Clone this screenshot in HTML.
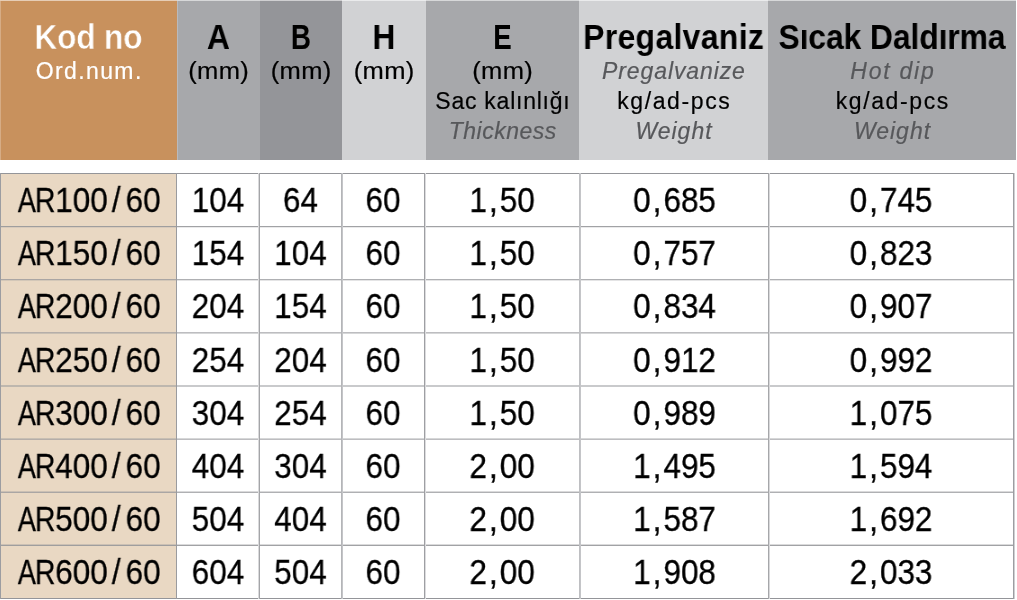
<!DOCTYPE html>
<html><head><meta charset="utf-8"><style>
html,body{margin:0;padding:0;background:#fff;width:1017px;height:600px;overflow:hidden}
.r{position:absolute}
.cm{margin:0 2.3px}
.sl{margin:0 5.6px 0 4.5px}
.ar{letter-spacing:-1.2px;margin-right:-2.0px}
.a{display:inline-block;transform:scaleX(0.86);transform-origin:100% 50%}
.rr{display:inline-block;transform:scaleX(0.9);transform-origin:0 50%}
.t{position:absolute;box-sizing:border-box;will-change:transform;text-align:center;white-space:nowrap;font-family:"Liberation Sans", sans-serif}
</style></head><body>
<div class="r" style="left:0px;top:0px;width:177px;height:160px;background:#c8915d"></div>
<div class="r" style="left:177px;top:0px;width:83px;height:160px;background:#a7a8ab"></div>
<div class="r" style="left:260px;top:0px;width:82px;height:160px;background:#949599"></div>
<div class="r" style="left:342px;top:0px;width:84px;height:160px;background:#d1d2d4"></div>
<div class="r" style="left:426px;top:0px;width:153px;height:160px;background:#a7a8ab"></div>
<div class="r" style="left:579px;top:0px;width:189px;height:160px;background:#d1d2d4"></div>
<div class="r" style="left:768px;top:0px;width:248px;height:160px;background:#a7a8ab"></div>
<div class="r" style="left:0px;top:0px;width:1016px;height:1px;background:rgba(255,255,255,0.55)"></div>
<div class="r" style="left:0px;top:1px;width:1px;height:159px;background:rgba(255,255,255,0.25)"></div>
<div class="r" style="left:177px;top:1px;width:1px;height:159px;background:#b9babd"></div>
<div class="r" style="left:0px;top:173px;width:176px;height:425px;background:#e9d8c3"></div>
<div class="r" style="left:0px;top:173px;width:1014px;height:1px;background:rgba(148,149,153,1.00)"></div>
<div class="r" style="left:0px;top:226px;width:1014px;height:1px;background:rgba(148,149,153,0.88)"></div>
<div class="r" style="left:0px;top:227px;width:1014px;height:1px;background:rgba(148,149,153,0.20)"></div>
<div class="r" style="left:0px;top:279px;width:1014px;height:1px;background:rgba(148,149,153,0.75)"></div>
<div class="r" style="left:0px;top:280px;width:1014px;height:1px;background:rgba(148,149,153,0.25)"></div>
<div class="r" style="left:0px;top:332px;width:1014px;height:1px;background:rgba(148,149,153,0.62)"></div>
<div class="r" style="left:0px;top:333px;width:1014px;height:1px;background:rgba(148,149,153,0.38)"></div>
<div class="r" style="left:0px;top:385px;width:1014px;height:1px;background:rgba(148,149,153,0.50)"></div>
<div class="r" style="left:0px;top:386px;width:1014px;height:1px;background:rgba(148,149,153,0.50)"></div>
<div class="r" style="left:0px;top:438px;width:1014px;height:1px;background:rgba(148,149,153,0.38)"></div>
<div class="r" style="left:0px;top:439px;width:1014px;height:1px;background:rgba(148,149,153,0.62)"></div>
<div class="r" style="left:0px;top:491px;width:1014px;height:1px;background:rgba(148,149,153,0.35)"></div>
<div class="r" style="left:0px;top:492px;width:1014px;height:1px;background:rgba(148,149,153,0.75)"></div>
<div class="r" style="left:0px;top:544px;width:1014px;height:1px;background:rgba(148,149,153,0.35)"></div>
<div class="r" style="left:0px;top:545px;width:1014px;height:1px;background:rgba(148,149,153,0.88)"></div>
<div class="r" style="left:0px;top:598px;width:1014px;height:1px;background:rgba(148,149,153,1.00)"></div>
<div class="r" style="left:0px;top:173px;width:1px;height:426px;background:#9c9da1"></div>
<div class="r" style="left:176px;top:173px;width:1px;height:426px;background:#9a9b9f"></div>
<div class="r" style="left:258px;top:173px;width:1px;height:426px;background:#dadadc"></div>
<div class="r" style="left:259px;top:173px;width:1px;height:426px;background:#a4a5a8"></div>
<div class="r" style="left:341px;top:173px;width:1px;height:426px;background:#b4b5b8"></div>
<div class="r" style="left:342px;top:173px;width:1px;height:426px;background:#c4c5c8"></div>
<div class="r" style="left:424px;top:173px;width:1px;height:426px;background:#9e9fa3"></div>
<div class="r" style="left:425px;top:173px;width:1px;height:426px;background:#dcdcde"></div>
<div class="r" style="left:579px;top:173px;width:1px;height:426px;background:#bebfc2"></div>
<div class="r" style="left:580px;top:173px;width:1px;height:426px;background:#c4c5c8"></div>
<div class="r" style="left:768px;top:173px;width:1px;height:426px;background:#a6a7aa"></div>
<div class="r" style="left:769px;top:173px;width:1px;height:426px;background:#d8d8da"></div>
<div class="r" style="left:1013px;top:173px;width:1px;height:426px;background:#9c9da1"></div>
<div class="r" style="left:1014px;top:173px;width:1px;height:426px;background:#cfcfd2"></div>
<div class="t" style="left:-40px;width:257px;top:18.77px;font-size:35px;line-height:35px;font-weight:bold;font-style:normal;color:#fff;letter-spacing:-0.35px;padding-right:0.35px;transform:scaleX(0.91);-webkit-text-stroke:0.5px #c8915d;">Kod no</div>
<div class="t" style="left:-40px;width:257px;top:59.53px;font-size:23px;line-height:23px;font-weight:normal;font-style:normal;color:#fff;letter-spacing:1.4px;padding-left:1.4px;-webkit-text-stroke:0.2px #fff;">Ord.num.</div>
<div class="t" style="left:137px;width:163px;top:18.77px;font-size:35px;line-height:35px;font-weight:bold;font-style:normal;color:#000;letter-spacing:0px;transform:scaleX(0.91);">A</div>
<div class="t" style="left:137px;width:163px;top:59.53px;font-size:23px;line-height:23px;font-weight:normal;font-style:normal;color:#000;letter-spacing:0.3px;padding-left:0.3px;transform:scaleX(1.11);-webkit-text-stroke:0.2px #000;">(mm)</div>
<div class="t" style="left:220px;width:162px;top:18.77px;font-size:35px;line-height:35px;font-weight:bold;font-style:normal;color:#000;letter-spacing:0px;transform:scaleX(0.79);">B</div>
<div class="t" style="left:220px;width:162px;top:59.53px;font-size:23px;line-height:23px;font-weight:normal;font-style:normal;color:#000;letter-spacing:0.3px;padding-left:0.3px;transform:scaleX(1.11);-webkit-text-stroke:0.2px #000;">(mm)</div>
<div class="t" style="left:302px;width:164px;top:18.77px;font-size:35px;line-height:35px;font-weight:bold;font-style:normal;color:#000;letter-spacing:0px;transform:scaleX(0.91);">H</div>
<div class="t" style="left:302px;width:164px;top:59.53px;font-size:23px;line-height:23px;font-weight:normal;font-style:normal;color:#000;letter-spacing:0.3px;padding-left:0.3px;transform:scaleX(1.11);-webkit-text-stroke:0.2px #000;">(mm)</div>
<div class="t" style="left:386px;width:233px;top:18.77px;font-size:35px;line-height:35px;font-weight:bold;font-style:normal;color:#000;letter-spacing:0px;transform:scaleX(0.79);">E</div>
<div class="t" style="left:386px;width:233px;top:59.53px;font-size:23px;line-height:23px;font-weight:normal;font-style:normal;color:#000;letter-spacing:0.3px;padding-left:0.3px;transform:scaleX(1.11);-webkit-text-stroke:0.2px #000;">(mm)</div>
<div class="t" style="left:386px;width:233px;top:90.03px;font-size:23px;line-height:23px;font-weight:normal;font-style:normal;color:#000;letter-spacing:0.75px;padding-left:0.75px;-webkit-text-stroke:0.2px #000;">Sac kalınlığı</div>
<div class="t" style="left:386px;width:233px;top:119.53px;font-size:23px;line-height:23px;font-weight:normal;font-style:italic;color:#57585b;letter-spacing:0.5px;padding-left:0.5px;-webkit-text-stroke:0.2px #57585b;">Thickness</div>
<div class="t" style="left:539px;width:269px;top:18.77px;font-size:35px;line-height:35px;font-weight:bold;font-style:normal;color:#000;letter-spacing:0.4px;padding-left:0.4px;transform:scaleX(0.91);">Pregalvaniz</div>
<div class="t" style="left:539px;width:269px;top:59.53px;font-size:23px;line-height:23px;font-weight:normal;font-style:italic;color:#57585b;letter-spacing:0.9px;padding-left:0.9px;-webkit-text-stroke:0.2px #57585b;">Pregalvanize</div>
<div class="t" style="left:539px;width:269px;top:90.03px;font-size:23px;line-height:23px;font-weight:normal;font-style:normal;color:#000;letter-spacing:1.6px;padding-left:1.6px;-webkit-text-stroke:0.2px #000;">kg/ad-pcs</div>
<div class="t" style="left:539px;width:269px;top:119.53px;font-size:23px;line-height:23px;font-weight:normal;font-style:italic;color:#57585b;letter-spacing:1.0px;padding-left:1.0px;-webkit-text-stroke:0.2px #57585b;">Weight</div>
<div class="t" style="left:728px;width:328px;top:18.77px;font-size:35px;line-height:35px;font-weight:bold;font-style:normal;color:#000;letter-spacing:-0.1px;padding-right:0.1px;transform:scaleX(0.91);">Sıcak Daldırma</div>
<div class="t" style="left:728px;width:328px;top:59.53px;font-size:23px;line-height:23px;font-weight:normal;font-style:italic;color:#57585b;letter-spacing:1.75px;padding-left:1.75px;-webkit-text-stroke:0.2px #57585b;">Hot dip</div>
<div class="t" style="left:728px;width:328px;top:90.03px;font-size:23px;line-height:23px;font-weight:normal;font-style:normal;color:#000;letter-spacing:1.6px;padding-left:1.6px;-webkit-text-stroke:0.2px #000;">kg/ad-pcs</div>
<div class="t" style="left:728px;width:328px;top:119.53px;font-size:23px;line-height:23px;font-weight:normal;font-style:italic;color:#57585b;letter-spacing:1.0px;padding-left:1.0px;-webkit-text-stroke:0.2px #57585b;">Weight</div>
<div class="t" style="left:-40px;width:256px;top:182.00px;font-size:35px;line-height:35px;font-weight:normal;font-style:normal;color:#000;letter-spacing:0px;transform:scaleX(0.9);-webkit-text-stroke:0.3px #000;"><span class="ar"><span class="a">A</span><span class="rr">R</span></span>100<span class="sl">/</span>60</div>
<div class="t" style="left:137px;width:162px;top:182.00px;font-size:35px;line-height:35px;font-weight:normal;font-style:normal;color:#000;letter-spacing:0px;transform:scaleX(0.9);-webkit-text-stroke:0.3px #000;">104</div>
<div class="t" style="left:220px;width:161px;top:182.00px;font-size:35px;line-height:35px;font-weight:normal;font-style:normal;color:#000;letter-spacing:0px;transform:scaleX(0.9);-webkit-text-stroke:0.3px #000;">64</div>
<div class="t" style="left:302px;width:162px;top:182.00px;font-size:35px;line-height:35px;font-weight:normal;font-style:normal;color:#000;letter-spacing:0px;transform:scaleX(0.9);-webkit-text-stroke:0.3px #000;">60</div>
<div class="t" style="left:385px;width:234px;top:182.00px;font-size:35px;line-height:35px;font-weight:normal;font-style:normal;color:#000;letter-spacing:0px;transform:scaleX(0.9);-webkit-text-stroke:0.3px #000;">1<span class="cm">,</span>50</div>
<div class="t" style="left:541px;width:267px;top:182.00px;font-size:35px;line-height:35px;font-weight:normal;font-style:normal;color:#000;letter-spacing:0px;transform:scaleX(0.9);-webkit-text-stroke:0.3px #000;">0<span class="cm">,</span>685</div>
<div class="t" style="left:729px;width:324px;top:182.00px;font-size:35px;line-height:35px;font-weight:normal;font-style:normal;color:#000;letter-spacing:0px;transform:scaleX(0.9);-webkit-text-stroke:0.3px #000;">0<span class="cm">,</span>745</div>
<div class="t" style="left:-40px;width:256px;top:235.00px;font-size:35px;line-height:35px;font-weight:normal;font-style:normal;color:#000;letter-spacing:0px;transform:scaleX(0.9);-webkit-text-stroke:0.3px #000;"><span class="ar"><span class="a">A</span><span class="rr">R</span></span>150<span class="sl">/</span>60</div>
<div class="t" style="left:137px;width:162px;top:235.00px;font-size:35px;line-height:35px;font-weight:normal;font-style:normal;color:#000;letter-spacing:0px;transform:scaleX(0.9);-webkit-text-stroke:0.3px #000;">154</div>
<div class="t" style="left:220px;width:161px;top:235.00px;font-size:35px;line-height:35px;font-weight:normal;font-style:normal;color:#000;letter-spacing:0px;transform:scaleX(0.9);-webkit-text-stroke:0.3px #000;">104</div>
<div class="t" style="left:302px;width:162px;top:235.00px;font-size:35px;line-height:35px;font-weight:normal;font-style:normal;color:#000;letter-spacing:0px;transform:scaleX(0.9);-webkit-text-stroke:0.3px #000;">60</div>
<div class="t" style="left:385px;width:234px;top:235.00px;font-size:35px;line-height:35px;font-weight:normal;font-style:normal;color:#000;letter-spacing:0px;transform:scaleX(0.9);-webkit-text-stroke:0.3px #000;">1<span class="cm">,</span>50</div>
<div class="t" style="left:541px;width:267px;top:235.00px;font-size:35px;line-height:35px;font-weight:normal;font-style:normal;color:#000;letter-spacing:0px;transform:scaleX(0.9);-webkit-text-stroke:0.3px #000;">0<span class="cm">,</span>757</div>
<div class="t" style="left:729px;width:324px;top:235.00px;font-size:35px;line-height:35px;font-weight:normal;font-style:normal;color:#000;letter-spacing:0px;transform:scaleX(0.9);-webkit-text-stroke:0.3px #000;">0<span class="cm">,</span>823</div>
<div class="t" style="left:-40px;width:256px;top:288.00px;font-size:35px;line-height:35px;font-weight:normal;font-style:normal;color:#000;letter-spacing:0px;transform:scaleX(0.9);-webkit-text-stroke:0.3px #000;"><span class="ar"><span class="a">A</span><span class="rr">R</span></span>200<span class="sl">/</span>60</div>
<div class="t" style="left:137px;width:162px;top:288.00px;font-size:35px;line-height:35px;font-weight:normal;font-style:normal;color:#000;letter-spacing:0px;transform:scaleX(0.9);-webkit-text-stroke:0.3px #000;">204</div>
<div class="t" style="left:220px;width:161px;top:288.00px;font-size:35px;line-height:35px;font-weight:normal;font-style:normal;color:#000;letter-spacing:0px;transform:scaleX(0.9);-webkit-text-stroke:0.3px #000;">154</div>
<div class="t" style="left:302px;width:162px;top:288.00px;font-size:35px;line-height:35px;font-weight:normal;font-style:normal;color:#000;letter-spacing:0px;transform:scaleX(0.9);-webkit-text-stroke:0.3px #000;">60</div>
<div class="t" style="left:385px;width:234px;top:288.00px;font-size:35px;line-height:35px;font-weight:normal;font-style:normal;color:#000;letter-spacing:0px;transform:scaleX(0.9);-webkit-text-stroke:0.3px #000;">1<span class="cm">,</span>50</div>
<div class="t" style="left:541px;width:267px;top:288.00px;font-size:35px;line-height:35px;font-weight:normal;font-style:normal;color:#000;letter-spacing:0px;transform:scaleX(0.9);-webkit-text-stroke:0.3px #000;">0<span class="cm">,</span>834</div>
<div class="t" style="left:729px;width:324px;top:288.00px;font-size:35px;line-height:35px;font-weight:normal;font-style:normal;color:#000;letter-spacing:0px;transform:scaleX(0.9);-webkit-text-stroke:0.3px #000;">0<span class="cm">,</span>907</div>
<div class="t" style="left:-40px;width:256px;top:342.00px;font-size:35px;line-height:35px;font-weight:normal;font-style:normal;color:#000;letter-spacing:0px;transform:scaleX(0.9);-webkit-text-stroke:0.3px #000;"><span class="ar"><span class="a">A</span><span class="rr">R</span></span>250<span class="sl">/</span>60</div>
<div class="t" style="left:137px;width:162px;top:342.00px;font-size:35px;line-height:35px;font-weight:normal;font-style:normal;color:#000;letter-spacing:0px;transform:scaleX(0.9);-webkit-text-stroke:0.3px #000;">254</div>
<div class="t" style="left:220px;width:161px;top:342.00px;font-size:35px;line-height:35px;font-weight:normal;font-style:normal;color:#000;letter-spacing:0px;transform:scaleX(0.9);-webkit-text-stroke:0.3px #000;">204</div>
<div class="t" style="left:302px;width:162px;top:342.00px;font-size:35px;line-height:35px;font-weight:normal;font-style:normal;color:#000;letter-spacing:0px;transform:scaleX(0.9);-webkit-text-stroke:0.3px #000;">60</div>
<div class="t" style="left:385px;width:234px;top:342.00px;font-size:35px;line-height:35px;font-weight:normal;font-style:normal;color:#000;letter-spacing:0px;transform:scaleX(0.9);-webkit-text-stroke:0.3px #000;">1<span class="cm">,</span>50</div>
<div class="t" style="left:541px;width:267px;top:342.00px;font-size:35px;line-height:35px;font-weight:normal;font-style:normal;color:#000;letter-spacing:0px;transform:scaleX(0.9);-webkit-text-stroke:0.3px #000;">0<span class="cm">,</span>912</div>
<div class="t" style="left:729px;width:324px;top:342.00px;font-size:35px;line-height:35px;font-weight:normal;font-style:normal;color:#000;letter-spacing:0px;transform:scaleX(0.9);-webkit-text-stroke:0.3px #000;">0<span class="cm">,</span>992</div>
<div class="t" style="left:-40px;width:256px;top:395.00px;font-size:35px;line-height:35px;font-weight:normal;font-style:normal;color:#000;letter-spacing:0px;transform:scaleX(0.9);-webkit-text-stroke:0.3px #000;"><span class="ar"><span class="a">A</span><span class="rr">R</span></span>300<span class="sl">/</span>60</div>
<div class="t" style="left:137px;width:162px;top:395.00px;font-size:35px;line-height:35px;font-weight:normal;font-style:normal;color:#000;letter-spacing:0px;transform:scaleX(0.9);-webkit-text-stroke:0.3px #000;">304</div>
<div class="t" style="left:220px;width:161px;top:395.00px;font-size:35px;line-height:35px;font-weight:normal;font-style:normal;color:#000;letter-spacing:0px;transform:scaleX(0.9);-webkit-text-stroke:0.3px #000;">254</div>
<div class="t" style="left:302px;width:162px;top:395.00px;font-size:35px;line-height:35px;font-weight:normal;font-style:normal;color:#000;letter-spacing:0px;transform:scaleX(0.9);-webkit-text-stroke:0.3px #000;">60</div>
<div class="t" style="left:385px;width:234px;top:395.00px;font-size:35px;line-height:35px;font-weight:normal;font-style:normal;color:#000;letter-spacing:0px;transform:scaleX(0.9);-webkit-text-stroke:0.3px #000;">1<span class="cm">,</span>50</div>
<div class="t" style="left:541px;width:267px;top:395.00px;font-size:35px;line-height:35px;font-weight:normal;font-style:normal;color:#000;letter-spacing:0px;transform:scaleX(0.9);-webkit-text-stroke:0.3px #000;">0<span class="cm">,</span>989</div>
<div class="t" style="left:729px;width:324px;top:395.00px;font-size:35px;line-height:35px;font-weight:normal;font-style:normal;color:#000;letter-spacing:0px;transform:scaleX(0.9);-webkit-text-stroke:0.3px #000;">1<span class="cm">,</span>075</div>
<div class="t" style="left:-40px;width:256px;top:448.00px;font-size:35px;line-height:35px;font-weight:normal;font-style:normal;color:#000;letter-spacing:0px;transform:scaleX(0.9);-webkit-text-stroke:0.3px #000;"><span class="ar"><span class="a">A</span><span class="rr">R</span></span>400<span class="sl">/</span>60</div>
<div class="t" style="left:137px;width:162px;top:448.00px;font-size:35px;line-height:35px;font-weight:normal;font-style:normal;color:#000;letter-spacing:0px;transform:scaleX(0.9);-webkit-text-stroke:0.3px #000;">404</div>
<div class="t" style="left:220px;width:161px;top:448.00px;font-size:35px;line-height:35px;font-weight:normal;font-style:normal;color:#000;letter-spacing:0px;transform:scaleX(0.9);-webkit-text-stroke:0.3px #000;">304</div>
<div class="t" style="left:302px;width:162px;top:448.00px;font-size:35px;line-height:35px;font-weight:normal;font-style:normal;color:#000;letter-spacing:0px;transform:scaleX(0.9);-webkit-text-stroke:0.3px #000;">60</div>
<div class="t" style="left:385px;width:234px;top:448.00px;font-size:35px;line-height:35px;font-weight:normal;font-style:normal;color:#000;letter-spacing:0px;transform:scaleX(0.9);-webkit-text-stroke:0.3px #000;">2<span class="cm">,</span>00</div>
<div class="t" style="left:541px;width:267px;top:448.00px;font-size:35px;line-height:35px;font-weight:normal;font-style:normal;color:#000;letter-spacing:0px;transform:scaleX(0.9);-webkit-text-stroke:0.3px #000;">1<span class="cm">,</span>495</div>
<div class="t" style="left:729px;width:324px;top:448.00px;font-size:35px;line-height:35px;font-weight:normal;font-style:normal;color:#000;letter-spacing:0px;transform:scaleX(0.9);-webkit-text-stroke:0.3px #000;">1<span class="cm">,</span>594</div>
<div class="t" style="left:-40px;width:256px;top:501.00px;font-size:35px;line-height:35px;font-weight:normal;font-style:normal;color:#000;letter-spacing:0px;transform:scaleX(0.9);-webkit-text-stroke:0.3px #000;"><span class="ar"><span class="a">A</span><span class="rr">R</span></span>500<span class="sl">/</span>60</div>
<div class="t" style="left:137px;width:162px;top:501.00px;font-size:35px;line-height:35px;font-weight:normal;font-style:normal;color:#000;letter-spacing:0px;transform:scaleX(0.9);-webkit-text-stroke:0.3px #000;">504</div>
<div class="t" style="left:220px;width:161px;top:501.00px;font-size:35px;line-height:35px;font-weight:normal;font-style:normal;color:#000;letter-spacing:0px;transform:scaleX(0.9);-webkit-text-stroke:0.3px #000;">404</div>
<div class="t" style="left:302px;width:162px;top:501.00px;font-size:35px;line-height:35px;font-weight:normal;font-style:normal;color:#000;letter-spacing:0px;transform:scaleX(0.9);-webkit-text-stroke:0.3px #000;">60</div>
<div class="t" style="left:385px;width:234px;top:501.00px;font-size:35px;line-height:35px;font-weight:normal;font-style:normal;color:#000;letter-spacing:0px;transform:scaleX(0.9);-webkit-text-stroke:0.3px #000;">2<span class="cm">,</span>00</div>
<div class="t" style="left:541px;width:267px;top:501.00px;font-size:35px;line-height:35px;font-weight:normal;font-style:normal;color:#000;letter-spacing:0px;transform:scaleX(0.9);-webkit-text-stroke:0.3px #000;">1<span class="cm">,</span>587</div>
<div class="t" style="left:729px;width:324px;top:501.00px;font-size:35px;line-height:35px;font-weight:normal;font-style:normal;color:#000;letter-spacing:0px;transform:scaleX(0.9);-webkit-text-stroke:0.3px #000;">1<span class="cm">,</span>692</div>
<div class="t" style="left:-40px;width:256px;top:554.00px;font-size:35px;line-height:35px;font-weight:normal;font-style:normal;color:#000;letter-spacing:0px;transform:scaleX(0.9);-webkit-text-stroke:0.3px #000;"><span class="ar"><span class="a">A</span><span class="rr">R</span></span>600<span class="sl">/</span>60</div>
<div class="t" style="left:137px;width:162px;top:554.00px;font-size:35px;line-height:35px;font-weight:normal;font-style:normal;color:#000;letter-spacing:0px;transform:scaleX(0.9);-webkit-text-stroke:0.3px #000;">604</div>
<div class="t" style="left:220px;width:161px;top:554.00px;font-size:35px;line-height:35px;font-weight:normal;font-style:normal;color:#000;letter-spacing:0px;transform:scaleX(0.9);-webkit-text-stroke:0.3px #000;">504</div>
<div class="t" style="left:302px;width:162px;top:554.00px;font-size:35px;line-height:35px;font-weight:normal;font-style:normal;color:#000;letter-spacing:0px;transform:scaleX(0.9);-webkit-text-stroke:0.3px #000;">60</div>
<div class="t" style="left:385px;width:234px;top:554.00px;font-size:35px;line-height:35px;font-weight:normal;font-style:normal;color:#000;letter-spacing:0px;transform:scaleX(0.9);-webkit-text-stroke:0.3px #000;">2<span class="cm">,</span>00</div>
<div class="t" style="left:541px;width:267px;top:554.00px;font-size:35px;line-height:35px;font-weight:normal;font-style:normal;color:#000;letter-spacing:0px;transform:scaleX(0.9);-webkit-text-stroke:0.3px #000;">1<span class="cm">,</span>908</div>
<div class="t" style="left:729px;width:324px;top:554.00px;font-size:35px;line-height:35px;font-weight:normal;font-style:normal;color:#000;letter-spacing:0px;transform:scaleX(0.9);-webkit-text-stroke:0.3px #000;">2<span class="cm">,</span>033</div>
</body></html>
